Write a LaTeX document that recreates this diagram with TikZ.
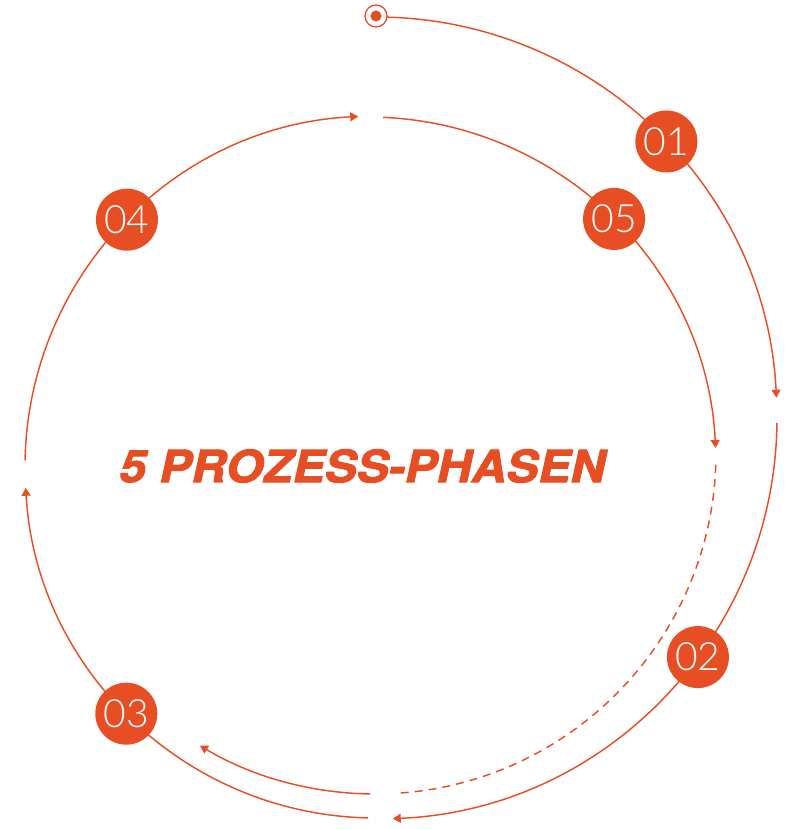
\documentclass[tikz,border=0pt]{standalone}
\usepackage{fontspec}
\usetikzlibrary{arrows.meta,calc}
\definecolor{accent}{RGB}{232,78,36}
\IfFontExistsTF{Lato Light}
  {\newfontfamily\numfont{Lato Light}}
  {\newfontfamily\numfont{Liberation Sans}}
\newfontfamily\headfont[FakeSlant=0.22,FakeStretch=1.08,FakeBold=2.2]{TeX Gyre Heros}
\begin{document}
\begin{tikzpicture}[x=1pt,y=1pt,
  flow/.style={draw=accent, line width=1.45pt, -{Triangle[length=8pt,width=9pt]}},
  trail/.style={draw=accent, line width=1.45pt, dash pattern=on 8pt off 6pt},
  phase/.style={circle, fill=accent, minimum size=62pt, inner sep=0pt,
    text=white, font=\numfont\fontsize{39}{39}\selectfont}]
\useasboundingbox (0,0) rectangle (789,-829);

% centres of the four arcs
\coordinate (O1) at (376,-418);   % outer loop: 01, 02
\coordinate (O2) at (376,-467);   % left loop: 03, 04
\coordinate (O3) at (368,-465);   % upper right: 05
\coordinate (O4) at (375,-453);   % dashed return

% outer loop
\coordinate (s1) at ($(O1)+(90:401)$);
\coordinate (s2) at ($(O1)+(-0.7:401)$);
\draw[flow] (s1) arc[start angle=90, end angle=2.9, radius=401];
\draw[flow] (s2) arc[start angle=-0.7, end angle=-87.6, radius=401];

% left loop
\coordinate (s3) at ($(O2)+(268.7:351)$);
\coordinate (s4) at ($(O2)+(178.9:351)$);
\draw[flow] (s3) arc[start angle=268.7, end angle=183.4, radius=351];
\draw[flow] (s4) arc[start angle=178.9, end angle=92.9, radius=351];

% upper right arc
\coordinate (s5) at ($(O3)+(87.5:348)$);
\draw[flow] (s5) arc[start angle=87.5, end angle=2.8, radius=348];

% dashed return and final arrow
\coordinate (s6) at ($(O4)+(-2:341)$);
\coordinate (s7) at ($(O4)+(269.2:341)$);
\draw[trail] (s6) arc[start angle=-2, end angle=-86.6, radius=341];
\draw[flow] (s7) arc[start angle=269.2, end angle=239.1, radius=341];

% start marker
\node[circle, draw=accent, fill=white, line width=1.3pt, minimum size=22pt, inner sep=0pt] (ring) at (376,-16) {};
\node[circle, fill=accent, minimum size=11pt, inner sep=0pt] (dot) at (ring) {};

% phase markers
\node[phase] (p1) at ($(O1)+(43.6:401)$) {01};
\node[phase] (p2) at ($(O1)+(-36.6:401)$) {02};
\node[phase] (p3) at ($(O2)+(224.65:351)$) {03};
\node[phase] (p4) at ($(O2)+(135.2:351)$) {04};
\node[phase] (p5) at ($(O3)+(45:348)$) {05};

% title
\node[text=accent, inner sep=0pt, font=\headfont\bfseries\fontsize{44.5}{44.5}\selectfont] (title) at (360.5,-466) {5 PROZESS-PHASEN};
\end{tikzpicture}
\end{document}
